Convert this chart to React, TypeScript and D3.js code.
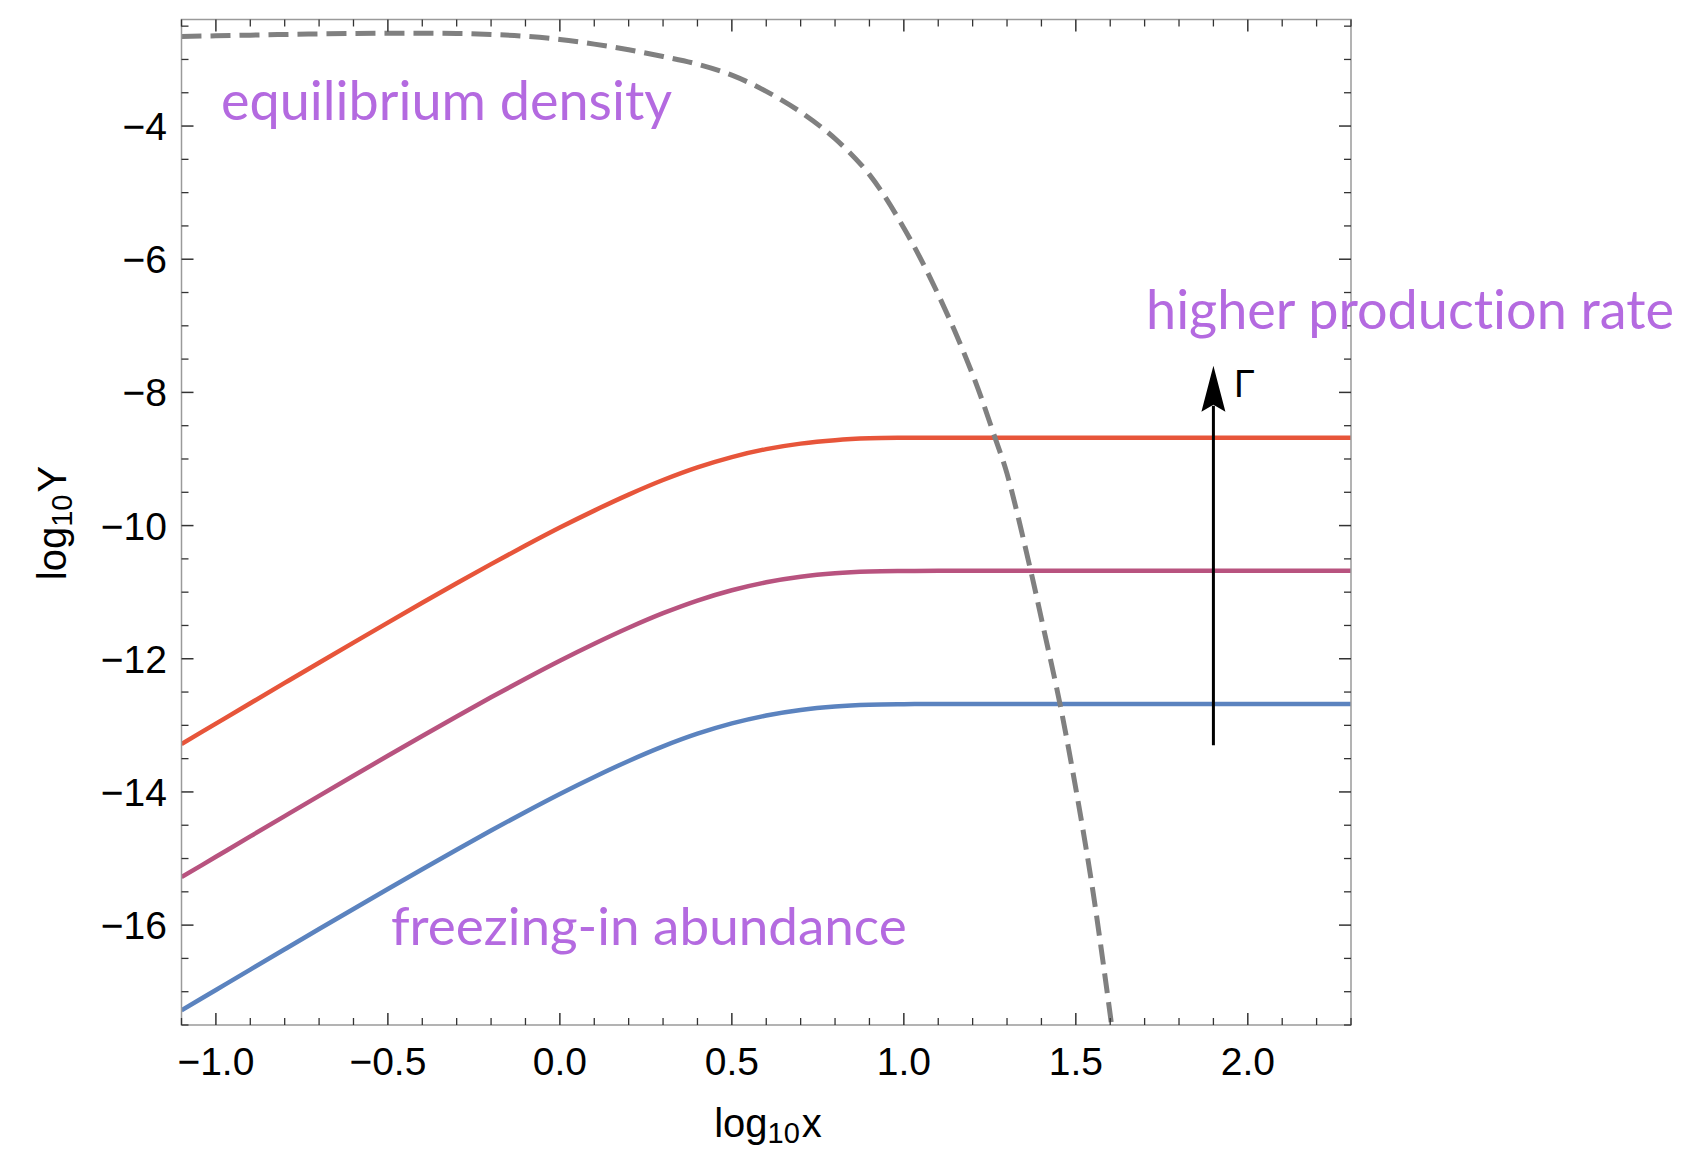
import React from "react";
import * as d3 from "d3";

// ---- data ----
const freezeX = [-1.1, -1.0, -0.9, -0.8, -0.7, -0.6, -0.5, -0.4, -0.3, -0.2, -0.1, 0.0, 0.1, 0.2, 0.3, 0.4, 0.5, 0.6, 0.7, 0.8, 0.9, 1.0, 1.1, 1.4, 1.8, 2.3];
const highRate = [-13.28, -12.974, -12.668, -12.363, -12.059, -11.757, -11.457, -11.16, -10.867, -10.579, -10.3, -10.03, -9.775, -9.535, -9.316, -9.126, -8.971, -8.852, -8.769, -8.717, -8.69, -8.682, -8.68, -8.68, -8.68, -8.68];
const midRate = [-15.28, -14.974, -14.668, -14.363, -14.059, -13.757, -13.457, -13.16, -12.867, -12.579, -12.3, -12.03, -11.775, -11.535, -11.316, -11.126, -10.971, -10.852, -10.769, -10.717, -10.69, -10.682, -10.68, -10.68, -10.68, -10.68];
const lowRate = [-17.28, -16.974, -16.668, -16.363, -16.059, -15.757, -15.457, -15.16, -14.867, -14.579, -14.3, -14.03, -13.775, -13.535, -13.316, -13.126, -12.971, -12.852, -12.769, -12.717, -12.69, -12.682, -12.68, -12.68, -12.68, -12.68];

const eqX = [-1.1, -1.0, -0.9, -0.8, -0.7, -0.6, -0.5, -0.4, -0.3, -0.2, -0.1, 0.0, 0.1, 0.2, 0.3, 0.4, 0.5, 0.6, 0.7, 0.8, 0.9, 1.0, 1.1, 1.2, 1.265, 1.3, 1.369, 1.4, 1.454, 1.5, 1.55, 1.604];
const eqY = [-2.655, -2.645, -2.635, -2.625, -2.617, -2.611, -2.607, -2.606, -2.61, -2.624, -2.652, -2.70, -2.77, -2.855, -2.955, -3.07, -3.235, -3.48, -3.79, -4.19, -4.73, -5.53, -6.53, -7.73, -8.68, -9.22, -10.68, -11.4, -12.68, -13.95, -15.5, -17.5];

const xMajorTicks = [-1.0, -0.5, 0.0, 0.5, 1.0, 1.5, 2.0];
const xTickLabels = ["\u22121.0", "\u22120.5", "0.0", "0.5", "1.0", "1.5", "2.0"];
const yMajorTicks = [-16, -14, -12, -10, -8, -6, -4];
const yTickLabels = ["\u221216", "\u221214", "\u221212", "\u221210", "\u22128", "\u22126", "\u22124"];

const arrowX = 1.9;
const arrowFrom = -13.3;
const arrowTo = -7.6;

const seriesColors = ["#5b83bf", "#b8537f", "#e7553a"];

export default function App() {
  const W = 1690, H = 1149;
  const L = 181.5, R = 1351, T = 19.5, B = 1025;
  const x = d3.scaleLinear().domain([-1.1, 2.3]).range([L, R]);
  const y = d3.scaleLinear().domain([-17.5, -2.4]).range([B, T]);

  const xMinor = d3.range(-11, 24).map((i) => i / 10).filter((v) => !xMajorTicks.some((m) => Math.abs(m - v) < 1e-6));
  const yMinor = d3.range(-35, -4).map((i) => i / 2).filter((v) => !yMajorTicks.some((m) => Math.abs(m - v) < 1e-6));

  const line = d3
    .line<[number, number]>()
    .x((d) => x(d[0]))
    .y((d) => y(d[1]))
    .curve(d3.curveCatmullRom.alpha(0.5));

  const series = [lowRate, midRate, highRate].map((vals) => freezeX.map((v, i) => [v, vals[i]] as [number, number]));
  const eqPts = eqX.map((v, i) => [v, eqY[i]] as [number, number]);

  const tickFont = "'Liberation Sans', Arial, Helvetica, sans-serif";
  const noteFont = "Lato, 'Open Sans', sans-serif";
  const purple = "#b46ae0";
  const frameColor = "#9a9a9a";
  const tickColor = "#333";
  const noLig = { fontVariantLigatures: "none" as const };

  const ax = x(arrowX);
  const tipY = y(arrowTo);
  const tailY = y(arrowFrom);
  const headLen = 46, headHalf = 12;

  return (
    <svg width={W} height={H} style={{ position: "absolute", left: 0, top: 0, background: "#fff" }}>
      <defs>
        <clipPath id="plotClip">
          <rect x={L} y={T} width={R - L} height={B - T} />
        </clipPath>
      </defs>
      <rect x={0} y={0} width={W} height={H} fill="#fff" />

      {/* curves */}
      <g clipPath="url(#plotClip)">
        {series.map((pts, i) => (
          <path key={i} d={line(pts) || ""} fill="none" stroke={seriesColors[i]} strokeWidth={4.5} />
        ))}
        <path d={line(eqPts) || ""} fill="none" stroke="#808080" strokeWidth={5} strokeDasharray="20 9" />
      </g>

      {/* frame */}
      <rect x={L} y={T} width={R - L} height={B - T} fill="none" stroke={frameColor} strokeWidth={1.5} />

      {/* x ticks bottom & top */}
      {xMajorTicks.map((v) => (
        <g key={"xM" + v}>
          <line x1={x(v)} x2={x(v)} y1={B} y2={B - 12} stroke={tickColor} strokeWidth={1.5} />
          <line x1={x(v)} x2={x(v)} y1={T} y2={T + 12} stroke={tickColor} strokeWidth={1.5} />
        </g>
      ))}
      {xMinor.map((v) => (
        <g key={"xm" + v}>
          <line x1={x(v)} x2={x(v)} y1={B} y2={B - 7} stroke={tickColor} strokeWidth={1.3} />
          <line x1={x(v)} x2={x(v)} y1={T} y2={T + 7} stroke={tickColor} strokeWidth={1.3} />
        </g>
      ))}
      {/* y ticks left & right */}
      {yMajorTicks.map((v) => (
        <g key={"yM" + v}>
          <line x1={L} x2={L + 12} y1={y(v)} y2={y(v)} stroke={tickColor} strokeWidth={1.5} />
          <line x1={R} x2={R - 12} y1={y(v)} y2={y(v)} stroke={tickColor} strokeWidth={1.5} />
        </g>
      ))}
      {yMinor.map((v) => (
        <g key={"ym" + v}>
          <line x1={L} x2={L + 7} y1={y(v)} y2={y(v)} stroke={tickColor} strokeWidth={1.3} />
          <line x1={R} x2={R - 7} y1={y(v)} y2={y(v)} stroke={tickColor} strokeWidth={1.3} />
        </g>
      ))}

      {/* tick labels */}
      {xMajorTicks.map((v, i) => (
        <text key={"xl" + v} x={x(v)} y={1075} textAnchor="middle" fontFamily={tickFont} fontSize={39} fill="#000">
          {xTickLabels[i]}
        </text>
      ))}
      {yMajorTicks.map((v, i) => (
        <text key={"yl" + v} x={167} y={y(v)} dy="0.36em" textAnchor="end" fontFamily={tickFont} fontSize={39} fill="#000">
          {yTickLabels[i]}
        </text>
      ))}

      {/* axis titles */}
      <text x={768} y={1137} textAnchor="middle" fontFamily={tickFont} fontSize={40} fill="#000">
        log<tspan fontSize={29} dy={6}>10</tspan>
        <tspan dy={-6} dx={2}>x</tspan>
      </text>
      <text transform="translate(66,523) rotate(-90)" textAnchor="middle" fontFamily={tickFont} fontSize={40} fill="#000">
        log<tspan fontSize={29} dy={6}>10</tspan>
        <tspan dy={-6} dx={2}>Y</tspan>
      </text>

      {/* annotations */}
      <text x={221} y={120} fontFamily={noteFont} fontSize={54} fill={purple} style={noLig}>equilibrium density</text>
      <text x={1146} y={329} fontFamily={noteFont} fontSize={54} fill={purple} style={noLig}>higher production rate</text>
      <text x={391} y={945} fontFamily={noteFont} fontSize={53} fill={purple} style={noLig}>freezing-in abundance</text>

      {/* arrow */}
      <line x1={ax} x2={ax} y1={tailY} y2={tipY + headLen - 6} stroke="#000" strokeWidth={3} />
      <path
        d={`M${ax},${tipY} L${ax + headHalf},${tipY + headLen} L${ax},${tipY + headLen - 7} L${ax - headHalf},${tipY + headLen} Z`}
        fill="#000"
      />
      <text x={1234} y={397} fontFamily={tickFont} fontSize={38} fill="#000">Γ</text>
    </svg>
  );
}
